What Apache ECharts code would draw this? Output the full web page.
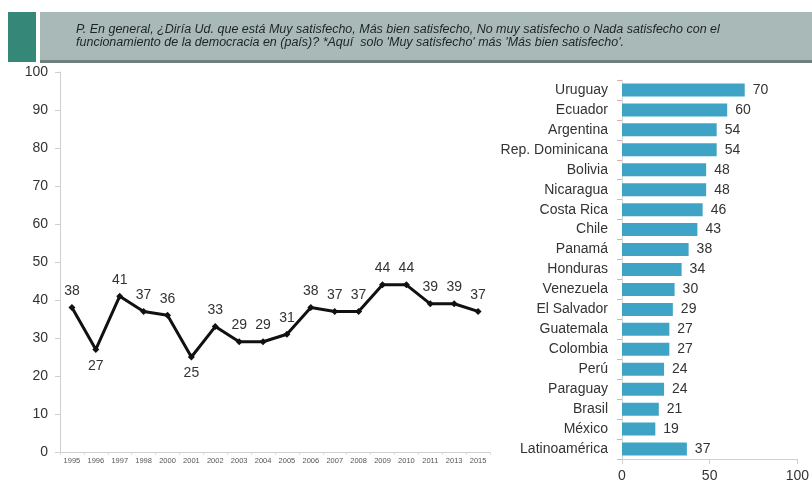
<!DOCTYPE html>
<html><head><meta charset="utf-8">
<script src="https://cdn.jsdelivr.net/npm/echarts@6/dist/echarts.min.js"></script>
<style>html,body{margin:0;padding:0;background:#fff}#c{width:812px;height:501px}</style>
</head><body><div id="c"></div>
<script>
const years = ['1995','1996','1997','1998','2000','2001','2002','2003','2004','2005','2006','2007','2008','2009','2010','2011','2013','2015'];
const trend = [38,27,41,37,36,25,33,29,29,31,38,37,37,44,44,39,39,37];
const belowLabels = ['1996','2001'];
const countries = ['Uruguay','Ecuador','Argentina','Rep. Dominicana','Bolivia','Nicaragua','Costa Rica','Chile','Panamá','Honduras','Venezuela','El Salvador','Guatemala','Colombia','Perú','Paraguay','Brasil','México','Latinoamérica'];
const countryValues = [70,60,54,54,48,48,46,43,38,34,30,29,27,27,24,24,21,19,37];
const titleLines = ['P. En general, ¿Diría Ud. que está Muy satisfecho, Más bien satisfecho, No muy satisfecho o Nada satisfecho con el',
  "funcionamiento de la democracia en (país)? *Aquí  solo 'Muy satisfecho' más 'Más bien satisfecho'."];

const chart = echarts.init(document.getElementById('c'));
chart.setOption({
  animation:false,
  textStyle:{fontFamily:'Liberation Sans, Arial, sans-serif'},
  graphic:[
    {type:'rect',shape:{x:8,y:12,width:28,height:50},style:{fill:'#358878'}},
    {type:'rect',shape:{x:40,y:12,width:772,height:50},style:{fill:'#a9b9b7'}},
    {type:'rect',shape:{x:40,y:60,width:772,height:3},style:{fill:'#6f7f7d'}},
    {type:'text',x:76,y:23,style:{text:titleLines[0],fill:'#1e2424',font:'italic 12.5px Liberation Sans, Arial, sans-serif'}},
    {type:'text',x:76,y:36,style:{text:titleLines[1],fill:'#1e2424',font:'italic 12.5px Liberation Sans, Arial, sans-serif'}}
  ],
  grid:[
    {left:60,right:322,top:72,bottom:49},
    {left:622,right:7,top:80,bottom:42}
  ],
  xAxis:[
    {type:'category',gridIndex:0,data:years,boundaryGap:true,
      axisLine:{lineStyle:{color:'#cfcfcf'}},axisTick:{show:true,length:3,lineStyle:{color:'#dcdcdc'}},
      axisLabel:{interval:0,fontSize:7.5,color:'#555',margin:5}},
    {type:'value',gridIndex:1,min:0,max:100,interval:50,
      axisLine:{show:true,lineStyle:{color:'#cfcfcf'}},axisTick:{show:true,lineStyle:{color:'#cfcfcf'}},
      splitLine:{show:false},axisLabel:{fontSize:14,color:'#333',margin:10}}
  ],
  yAxis:[
    {type:'value',gridIndex:0,min:0,max:100,interval:10,
      axisLine:{show:true,lineStyle:{color:'#cfcfcf'}},axisTick:{show:true,lineStyle:{color:'#cfcfcf'}},
      splitLine:{show:false},axisLabel:{fontSize:14,color:'#333',margin:12}},
    {type:'category',gridIndex:1,data:countries,inverse:true,
      axisLine:{show:true,lineStyle:{color:'#d8d8d8'}},axisTick:{show:true,lineStyle:{color:'#e0b0b0'}},
      axisLabel:{fontSize:14,color:'#333',margin:14}}
  ],
  series:[
    {type:'line',xAxisIndex:0,yAxisIndex:0,
      data:trend.map((v,i)=>({value:v,label:{position: belowLabels.includes(years[i])?'bottom':'top'}})),
      lineStyle:{color:'#111',width:3},itemStyle:{color:'#111'},
      symbol:'diamond',symbolSize:7,
      label:{show:true,fontSize:14,color:'#333',distance:6}},
    {type:'bar',xAxisIndex:1,yAxisIndex:1,data:countryValues,barWidth:13,
      itemStyle:{color:'#3fa3c6'},
      label:{show:true,position:'right',fontSize:14,color:'#333',distance:8}}
  ]
});
</script></body></html>
